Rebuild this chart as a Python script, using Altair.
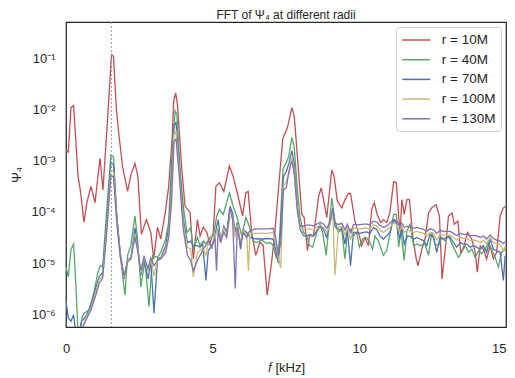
import altair as alt
import pandas as pd

series_names = ["r = 10M", "r = 40M", "r = 70M", "r = 100M", "r = 130M"]
series_colors = ["#C44E52", "#55A868", "#4C72B0", "#CCB974", "#8172B2"]

# frequency in kHz, log10 of |Psi_4|
red_f = [0.00, 0.08, 0.17, 0.26, 0.41, 0.50, 0.61, 0.72, 0.85, 0.99, 1.08, 1.16, 1.26, 1.42, 1.55, 1.62, 1.72, 1.80, 1.93, 2.10,
         2.21, 2.35, 2.45, 2.57, 2.74, 2.89, 2.99, 3.12, 3.23, 3.40, 3.50, 3.62, 3.67, 3.74, 3.80, 3.87, 3.95, 4.06, 4.23, 4.34,
         4.48, 4.57, 4.68, 4.80, 4.90, 5.02, 5.11, 5.23, 5.38, 5.57, 5.70, 5.84, 6.02, 6.13, 6.21, 6.33, 6.47, 6.61, 6.72, 6.86,
         7.01, 7.12, 7.24, 7.39, 7.55, 7.70, 7.78, 7.89, 8.04, 8.12, 8.23, 8.30, 8.44, 8.61, 8.70, 8.78, 8.89, 9.06, 9.14, 9.25,
         9.40, 9.51, 9.63, 9.70, 9.85, 10.00, 10.08, 10.19, 10.31, 10.42, 10.51, 10.61, 10.73, 10.82, 10.93, 11.04, 11.17, 11.26,
         11.34, 11.39, 11.45, 11.53, 11.62, 11.71, 11.83, 11.94, 12.00, 12.13, 12.24, 12.36, 12.47, 12.62, 12.73, 12.82, 12.93,
         13.04, 13.16, 13.24, 13.36, 13.46, 13.57, 13.69, 13.83, 13.95, 14.02, 14.12, 14.23, 14.34, 14.46, 14.57, 14.68, 14.80,
         14.91, 15.00]
red_lg = [-2.80, -2.83, -1.96, -1.92, -3.30, -3.62, -4.20, -3.80, -3.50, -3.82, -3.35, -2.95, -3.57, -2.16, -0.92, -0.96, -2.00, -2.47, -3.12, -3.60,
          -3.28, -3.05, -3.30, -4.44, -4.15, -4.40, -4.92, -4.30, -4.53, -3.95, -3.50, -2.54, -1.83, -1.67, -1.90, -2.50, -3.18, -3.89, -4.01, -4.92,
          -4.15, -4.47, -4.30, -4.40, -4.63, -4.40, -3.50, -3.43, -3.60, -3.10, -3.31, -3.63, -4.08, -3.63, -3.60, -4.40, -4.85, -4.59, -4.66, -5.63,
          -4.98, -4.40, -3.57, -2.57, -2.35, -1.96, -2.12, -2.92, -4.05, -4.11, -4.76, -4.47, -4.47, -3.70, -3.53, -3.76, -4.11, -3.18, -3.31, -3.79,
          -3.92, -3.76, -3.64, -3.64, -4.18, -4.47, -4.66, -4.50, -4.66, -3.95, -3.82, -4.05, -4.21, -4.15, -4.21, -4.02, -3.41, -3.43,
          -4.08, -4.40, -3.76, -4.05, -3.76, -3.76, -4.53, -4.92, -5.05, -4.73, -4.53, -4.02, -3.92, -3.86, -4.08, -5.31, -4.73,
          -4.08, -4.02, -4.24, -4.18, -4.82, -4.66, -4.40, -4.53, -4.79, -5.18, -4.66, -4.73, -4.92, -4.66, -4.92, -4.79, -4.08,
          -3.92, -3.89]

green_f = [0.00, 0.08, 0.17, 0.26, 0.34, 0.42, 0.50, 0.55, 0.62, 0.79, 0.96, 1.08, 1.17, 1.25, 1.39, 1.53, 1.62, 1.73, 1.85, 2.01,
           2.10, 2.21, 2.35, 2.44, 2.55, 2.69, 2.83, 2.95, 3.12, 3.23, 3.40, 3.50, 3.61, 3.72, 3.78, 3.89, 4.00, 4.12, 4.25, 4.34,
           4.48, 4.57, 4.68, 4.80, 4.91, 5.02, 5.14, 5.23, 5.36, 5.57, 5.70, 5.82, 5.99, 6.13, 6.25, 6.38, 6.50, 6.67, 6.84, 6.95,
           7.06, 7.17, 7.24, 7.30, 7.40, 7.50, 7.59, 7.70, 7.78, 7.89, 7.98, 8.10, 8.21, 8.30, 8.41, 8.55, 8.66, 8.75, 8.87, 8.98,
           9.06, 9.17, 9.29, 9.40, 9.51, 9.59, 9.70, 9.80, 9.91, 10.00, 10.11, 10.23, 10.34, 10.45, 10.53, 10.65, 10.82, 10.93,
           11.04, 11.17, 11.26, 11.34, 11.42, 11.53, 11.62, 11.73, 11.85, 11.96, 12.10, 12.22, 12.36, 12.47, 12.59, 12.70, 12.81,
           12.93, 13.04, 13.16, 13.27, 13.38, 13.49, 13.61, 13.72, 13.83, 13.95, 14.06, 14.17, 14.29, 14.40, 14.51, 14.63, 14.74,
           14.85, 14.97]
green_lg = [-5.08, -5.27, -4.73, -4.63, -5.47, -6.50, -6.30, -6.05, -5.98, -5.92, -5.56, -5.20, -5.05, -5.08, -3.95, -2.89, -2.92, -4.08, -4.85, -5.63,
            -4.85, -4.66, -4.08, -4.53, -5.47, -4.95, -5.85, -4.85, -4.89, -4.79, -4.53, -4.20, -2.86, -2.02, -2.09, -3.18, -3.89, -4.40, -4.31, -4.73,
            -4.50, -4.66, -4.57, -4.63, -4.50, -4.47, -4.08, -3.95, -4.05, -3.63, -3.89, -4.08, -4.47, -4.11, -4.28, -4.57, -4.60, -4.55, -4.62, -4.60,
            -4.65, -4.90, -4.85, -4.30, -3.15, -3.05, -2.92, -2.54, -2.73, -3.57, -4.11, -4.40, -4.47, -4.66, -4.69, -4.40, -4.24, -4.40, -4.85, -4.18,
            -3.73, -4.18, -4.40, -4.34, -4.92, -4.40, -4.34, -4.47, -4.40, -4.69, -4.53, -4.50, -4.57, -4.73, -4.47, -4.57, -4.85, -4.76,
            -4.45, -4.05, -4.05, -4.69, -4.37, -4.95, -4.37, -4.24, -4.66, -4.63, -4.66, -4.60, -4.85, -4.40, -4.63, -4.66, -4.50,
            -4.57, -4.47, -4.63, -4.76, -4.89, -4.79, -4.66, -4.79, -4.73, -4.89, -4.76, -4.82, -4.73, -4.60, -4.73, -4.89, -5.08,
            -4.79, -4.73]

# shared frequency grid for the three outer radii
outer_f = [0.00, 0.08, 0.17, 0.26, 0.34, 0.42, 0.53, 0.68, 0.85, 1.02, 1.13, 1.25, 1.39, 1.53, 1.62, 1.73, 1.85, 1.98, 2.10, 2.21,
           2.35, 2.44, 2.55, 2.66, 2.80, 2.89, 3.00, 3.12, 3.23, 3.40, 3.50, 3.60, 3.68, 3.75, 3.87, 4.00, 4.14, 4.25, 4.34, 4.48,
           4.57, 4.66, 4.77, 4.85, 4.97, 5.08, 5.13, 5.19, 5.27, 5.38, 5.48, 5.59, 5.68, 5.77, 5.84, 5.95, 6.04, 6.16, 6.22, 6.27,
           6.40, 6.55, 6.72, 6.89, 7.06, 7.15, 7.24, 7.32, 7.41, 7.51, 7.60, 7.70, 7.78, 7.89, 7.98, 8.10, 8.21, 8.32, 8.44, 8.55,
           8.66, 8.78, 8.89, 9.00, 9.09, 9.17, 9.29, 9.40, 9.51, 9.59, 9.70, 9.80, 9.91, 10.02, 10.14, 10.25, 10.36, 10.48, 10.59,
           10.70, 10.82, 10.93, 11.04, 11.17, 11.28, 11.37, 11.45, 11.53, 11.64, 11.73, 11.85, 11.96, 12.07, 12.19, 12.30, 12.41,
           12.53, 12.64, 12.75, 12.87, 12.98, 13.10, 13.21, 13.32, 13.44, 13.55, 13.66, 13.78, 13.89, 14.00, 14.12, 14.23, 14.34,
           14.46, 14.57, 14.68, 14.80, 14.91, 14.97]
blue_lg = [-5.75, -6.08, -6.14, -6.01, -6.40, -6.40, -6.14, -6.04, -5.82, -5.47, -5.27, -5.18, -4.18, -3.02, -3.08, -4.08, -4.79, -5.31, -4.92, -4.92,
           -4.31, -4.66, -5.24, -4.95, -5.31, -4.95, -5.98, -4.92, -4.89, -4.66, -4.30, -3.40, -2.31, -2.25, -3.12, -4.15, -4.60, -4.57, -4.66, -4.66,
           -4.69, -4.63, -5.34, -4.76, -4.66, -4.47, -4.30, -4.15, -4.57, -4.28, -4.40, -3.89, -4.02, -4.40, -4.21, -4.73, -4.34, -4.40, -4.45, -4.50,
           -4.52, -4.53, -4.53, -4.52, -4.53, -4.75, -5.00, -4.30, -3.31, -3.21, -3.05, -2.80, -3.05, -3.89, -4.34, -4.47, -4.47, -4.44, -4.47, -4.37,
           -4.28, -4.34, -4.50, -4.21, -3.92, -4.28, -4.37, -4.31, -4.63, -4.34, -5.05, -4.40, -4.40, -4.42, -4.40, -4.39, -4.42, -4.31, -4.34,
           -4.47, -4.53, -4.47, -4.40, -4.15, -4.24, -4.53, -4.31, -4.63, -4.47, -4.48, -4.53, -4.50, -4.53, -4.56, -4.66, -4.44,
           -4.50, -4.79, -4.50, -4.53, -4.50, -4.50, -4.60, -4.69, -4.60, -4.63, -4.63, -4.69, -4.66, -4.69, -4.73, -4.66, -4.79,
           -4.53, -4.73, -4.76, -4.79, -5.34, -4.86]
yellow_lg = [-6.50, -6.50, -6.50, -6.50, -6.50, -6.50, -6.30, -6.08, -5.88, -5.55, -5.33, -5.25, -4.30, -3.18, -3.22, -4.15, -4.85, -5.28, -4.95, -4.90,
             -4.45, -4.70, -5.20, -4.90, -5.15, -4.92, -5.25, -4.95, -4.90, -4.75, -4.45, -3.60, -2.48, -2.42, -3.25, -4.25, -4.70, -4.72, -5.27, -4.80,
             -4.75, -4.70, -4.85, -4.60, -4.70, -4.50, -4.40, -4.30, -4.60, -4.32, -4.45, -4.10, -4.10, -4.50, -4.25, -4.60, -4.35, -4.45, -5.15, -4.42,
             -4.42, -4.42, -4.42, -4.42, -4.40, -4.60, -4.90, -5.10, -3.50, -3.40, -3.25, -2.94, -3.18, -3.95, -4.30, -4.35, -4.33, -4.33, -4.35, -4.30,
             -4.26, -4.30, -4.40, -4.25, -3.95, -5.24, -4.30, -4.28, -4.45, -4.30, -4.55, -4.32, -4.32, -4.33, -4.32, -4.32, -4.33, -4.25, -4.27,
             -4.35, -4.40, -4.36, -4.30, -4.22, -4.25, -4.38, -4.28, -4.40, -4.36, -4.37, -4.40, -4.38, -4.40, -4.42, -4.48, -4.40,
             -4.42, -4.55, -4.45, -4.46, -4.45, -4.46, -4.50, -4.55, -4.50, -4.52, -4.52, -4.56, -4.55, -4.56, -4.60, -4.56, -4.62,
             -4.50, -4.60, -4.62, -4.64, -4.75, -4.68]
purple_lg = [-6.60, -6.60, -6.60, -6.60, -6.60, -6.60, -6.30, -6.12, -5.92, -5.62, -5.40, -5.30, -4.40, -3.28, -3.32, -4.20, -4.88, -5.25, -4.98, -4.92,
             -4.50, -4.75, -5.15, -4.88, -5.10, -4.90, -5.05, -4.95, -4.92, -4.80, -4.50, -3.80, -2.62, -2.57, -3.35, -4.35, -4.85, -4.95, -5.15, -4.95,
             -4.85, -4.75, -4.65, -4.55, -4.70, -4.50, -5.15, -4.35, -4.60, -4.40, -4.50, -3.92, -4.15, -5.50, -4.30, -4.65, -4.40, -4.50, -4.40, -4.38,
             -4.34, -4.33, -4.33, -4.33, -4.32, -4.50, -4.85, -4.60, -3.57, -3.53, -3.20, -3.00, -3.25, -4.00, -4.28, -4.28, -4.26, -4.26, -4.27, -4.24,
             -4.20, -4.24, -4.32, -4.20, -3.95, -4.22, -4.25, -4.22, -4.35, -4.24, -4.40, -4.25, -4.25, -4.25, -4.24, -4.24, -4.25, -4.18, -4.20,
             -4.26, -4.30, -4.28, -4.22, -4.15, -4.18, -4.28, -4.22, -4.30, -4.28, -4.30, -4.32, -4.30, -4.32, -4.34, -4.38, -4.33,
             -4.35, -4.42, -4.36, -4.38, -4.38, -4.38, -4.42, -4.46, -4.42, -4.44, -4.44, -4.47, -4.46, -4.47, -4.50, -4.47, -4.53,
             -4.45, -4.52, -4.55, -4.57, -4.62, -4.58]

marker_f = [1.55]

rows = []
for name, fs, lgs in [
    (series_names[0], red_f, red_lg),
    (series_names[1], green_f, green_lg),
    (series_names[2], outer_f, blue_lg),
    (series_names[3], outer_f, yellow_lg),
    (series_names[4], outer_f, purple_lg),
]:
    for i, (f, lg) in enumerate(zip(fs, lgs)):
        rows.append({"series": name, "f": f, "psi": 10 ** lg, "i": i})
df = pd.DataFrame(rows)

FONT = "Liberation Sans"
TXT = "#262626"

lines = alt.Chart(df).mark_line(strokeWidth=1.3, clip=True).encode(
    x=alt.X("f:Q", scale=alt.Scale(domain=[0, 15], nice=False, zero=False),
            axis=alt.Axis(values=[0, 5, 10, 15], format="d", title="𝑓 [kHz]",
                          ticks=False, tickSize=0, grid=False, domain=False,
                          labelPadding=15,
                          labelAlign=alt.condition("datum.value == 15", alt.value("right"), alt.value("center")),
                          titleBaseline="alphabetic", titleY=44)),
    y=alt.Y("psi:Q", scale=alt.Scale(type="log", domain=[5.6e-7, 0.52], nice=False),
            axis=alt.Axis(values=[1e-6, 1e-5, 1e-4, 1e-3, 1e-2, 1e-1],
                          labelExpr="'10' + ['⁰','⁻¹','⁻²','⁻³','⁻⁴','⁻⁵','⁻⁶'][round(-log(datum.value)/LN10)]",
                          title="Ψ₄", ticks=False, tickSize=0, grid=False, domain=False,
                          labelPadding=11, titleX=-46, titleBaseline="alphabetic")),
    color=alt.Color("series:N", scale=alt.Scale(domain=series_names, range=series_colors),
                    legend=alt.Legend(orient="none", legendX=330, legendY=5, title=None,
                                      symbolType="M-2,0H2", symbolSize=196, symbolStrokeWidth=1.5,
                                      symbolOffset=7.25, labelOffset=17.5,
                                      labelFontSize=13.5, padding=5, rowPadding=4.7,
                                      strokeColor="#cccccc", fillColor="white", cornerRadius=3,
                                      labelColor=TXT, labelFont=FONT)),
    order="i:Q",
)

rule = alt.Chart(pd.DataFrame({"f": marker_f})).mark_rule(
    color="#999999", strokeDash=[2, 2], strokeWidth=0.9
).encode(x="f:Q")

chart = alt.layer(lines, rule).properties(
    width=440, height=305,
    title=alt.TitleParams("FFT of Ψ₄ at different radii", fontSize=12, fontWeight="normal",
                          offset=0, color=TXT, font=FONT),
    autosize=alt.AutoSizeParams(type="none"),
    padding={"left": 58, "top": 14, "right": 1, "bottom": 49},
).configure_view(stroke=TXT, strokeWidth=1.25).configure_axis(
    labelFont=FONT, titleFont=FONT, labelFontSize=13, titleFontSize=13,
    labelColor=TXT, titleColor=TXT, titleFontWeight="normal"
)

chart.save("out.html", embed_options={"renderer": "svg", "actions": False})
